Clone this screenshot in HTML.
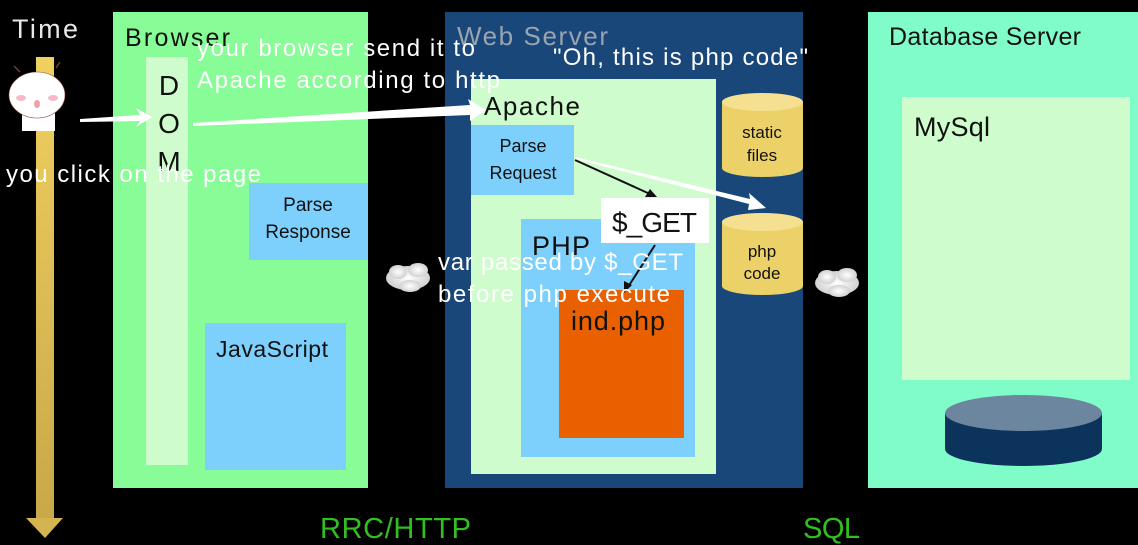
<!DOCTYPE html>
<html><head><meta charset="utf-8"><style>
html,body{margin:0;padding:0;background:#000;}
svg{display:block;}
text{font-family:"Liberation Sans",sans-serif;}
</style></head><body>
<svg width="1138" height="545" viewBox="0 0 1138 545" xmlns="http://www.w3.org/2000/svg">
<defs>
<linearGradient id="yg" x1="0" y1="0" x2="0" y2="1"><stop offset="0" stop-color="#f0d060"/><stop offset="1" stop-color="#c8a848"/></linearGradient>
<radialGradient id="cg" cx="0.5" cy="0.5" r="0.6"><stop offset="0" stop-color="#fff"/><stop offset="1" stop-color="#c8c8c8"/></radialGradient>
</defs>
<rect width="1138" height="545" fill="#000"/>
<!-- time axis -->
<text x="12" y="38" font-size="27" fill="#e8e8e8" textLength="66">Time</text>
<rect x="36" y="57" width="18" height="465" fill="url(#yg)"/>
<polygon points="26,518 63,518 45,538" fill="#d4b450"/>
<!-- character -->
<rect x="22" y="98" width="33" height="33" fill="#fff"/>
<ellipse cx="37" cy="95" rx="28" ry="23" fill="#fff" stroke="#8a5040" stroke-width="0.6"/>
<ellipse cx="21" cy="98" rx="5" ry="3" fill="#f8b8c8"/>
<ellipse cx="53" cy="98" rx="5" ry="3" fill="#f8b8c8"/>
<ellipse cx="37" cy="104" rx="3" ry="4" fill="#f0a0a8"/>
<path d="M14 66 L20 72 M56 68 L60 62" stroke="#704030" stroke-width="1.5"/>
<!-- Browser -->
<rect x="113" y="12" width="255" height="476" fill="#88fc96"/>
<text x="125" y="46" font-size="25" fill="#111" textLength="105">Browser</text>
<rect x="146" y="57" width="42" height="408" fill="#cffccc"/>
<text x="169" y="95" font-size="28" fill="#111" text-anchor="middle">D</text>
<text x="169" y="133" font-size="28" fill="#111" text-anchor="middle">O</text>
<text x="169" y="171" font-size="28" fill="#111" text-anchor="middle">M</text>
<rect x="249" y="183" width="119" height="77" fill="#7dd0fc"/>
<text x="308" y="211" font-size="19" fill="#111" text-anchor="middle">Parse</text>
<text x="308" y="238" font-size="19" fill="#111" text-anchor="middle">Response</text>
<rect x="205" y="323" width="141" height="147" fill="#7dd0fc"/>
<text x="216" y="357" font-size="23" fill="#111" textLength="112">JavaScript</text>
<!-- Web Server -->
<rect x="445" y="12" width="358" height="476" fill="#19477a"/>
<text x="457" y="45" font-size="26" fill="#9aa4b0" textLength="151">Web Server</text>
<rect x="471" y="79" width="245" height="395" fill="#cffccc"/>
<text x="484" y="115" font-size="26" fill="#111" textLength="96">Apache</text>
<rect x="471" y="125" width="103" height="70" fill="#7dd0fc"/>
<text x="523" y="152" font-size="18" fill="#111" text-anchor="middle">Parse</text>
<text x="523" y="179" font-size="18" fill="#111" text-anchor="middle">Request</text>
<rect x="521" y="219" width="174" height="238" fill="#7dd0fc"/>
<text x="532" y="255" font-size="27" fill="#111" textLength="58">PHP</text>
<rect x="559" y="290" width="125" height="148" fill="#e86000"/>
<text x="571" y="330" font-size="27" fill="#111" textLength="94">ind.php</text>
<rect x="601" y="198" width="108" height="45" fill="#fff"/>
<text x="612" y="232" font-size="28" fill="#111" textLength="85">$_GET</text>
<!-- cylinders -->
<path d="M722 102 L722 168 A40.5 9 0 0 0 803 168 L803 102 Z" fill="#ecd068"/>
<ellipse cx="762.5" cy="102" rx="40.5" ry="9" fill="#f4e090"/>
<text x="762" y="138" font-size="17" fill="#111" text-anchor="middle">static</text>
<text x="762" y="161" font-size="17" fill="#111" text-anchor="middle">files</text>
<path d="M722 222 L722 286 A40.5 9 0 0 0 803 286 L803 222 Z" fill="#ecd068"/>
<ellipse cx="762.5" cy="222" rx="40.5" ry="9" fill="#f4e090"/>
<text x="762" y="257" font-size="17" fill="#111" text-anchor="middle">php</text>
<text x="762" y="279" font-size="17" fill="#111" text-anchor="middle">code</text>
<!-- Database Server -->
<rect x="868" y="12" width="270" height="476" fill="#80fcc8"/>
<text x="889" y="45" font-size="25" fill="#111" textLength="192">Database Server</text>
<rect x="902" y="97" width="228" height="283" fill="#cffccc"/>
<text x="914" y="136" font-size="27" fill="#111" textLength="76">MySql</text>
<path d="M945 413 L945 449 A78.5 17 0 0 0 1102 449 L1102 413 Z" fill="#0c335c"/>
<ellipse cx="1023.5" cy="413" rx="78.5" ry="18" fill="#6c86a0"/>
<!-- clouds -->
<g fill="url(#cg)">
<ellipse cx="408" cy="278" rx="22" ry="12"/><ellipse cx="398" cy="272" rx="9" ry="7"/><ellipse cx="418" cy="270" rx="10" ry="7"/><ellipse cx="410" cy="286" rx="11" ry="6"/>
<ellipse cx="837" cy="283" rx="22" ry="12"/><ellipse cx="827" cy="277" rx="9" ry="7"/><ellipse cx="847" cy="275" rx="10" ry="7"/><ellipse cx="839" cy="291" rx="11" ry="6"/>
</g>
<!-- arrows -->
<polygon points="80,119 140,115 136,108 152,117 136,127 140,121 80,122" fill="#fff"/>
<polygon points="193,123 470,105 468,99 486,110 470,121 470,115 193,126" fill="#fff"/>
<line x1="575" y1="160" x2="650" y2="194" stroke="#111" stroke-width="2"/>
<polygon points="657,197 645,197 650,189" fill="#111"/>
<line x1="655" y1="245" x2="628" y2="287" stroke="#111" stroke-width="2"/>
<polygon points="624,293 624,281 632,285" fill="#111"/>
<polygon points="575,157 750,199 749,193 766,208 748,210 749,204 575,159" fill="#fff"/>
<!-- annotations -->
<g fill="#fff" font-size="24">
<text x="197" y="56" textLength="278">your browser send it to</text>
<text x="197" y="88" textLength="303">Apache according to http</text>
<text x="6" y="182" textLength="255">you click on the page</text>
<text x="553" y="65" textLength="255">"Oh, this is php code"</text>
<text x="438" y="270" textLength="245">var passed by $_GET</text>
<text x="438" y="302" textLength="232">before php execute</text>
</g>
<text x="320" y="538" font-size="29" fill="#30c020" textLength="151">RRC/HTTP</text>
<text x="803" y="538" font-size="29" fill="#30c020" textLength="57">SQL</text>
</svg>
</body></html>
